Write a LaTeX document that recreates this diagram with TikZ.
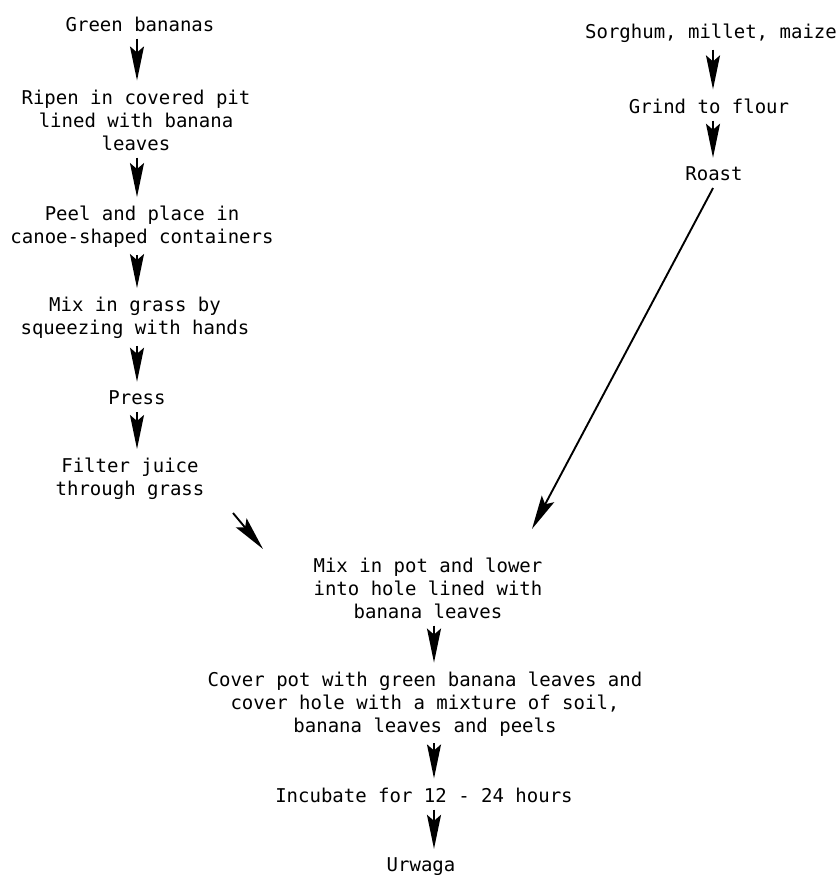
\documentclass[tikz,border=0pt]{standalone}
\usepackage{fontspec}
\setmainfont{DejaVu Sans Mono}
\usetikzlibrary{arrows.meta, positioning, calc}

\begin{document}
\begin{tikzpicture}[x=1pt, y=-1pt,
    stepnode/.style={align=center, inner sep=5pt, font=\fontsize{19}{23}\selectfont},
    arr/.style={-{Stealth[length=34pt, width=14pt, inset=6pt]}, line width=1.9pt,
                shorten >=4pt, shorten <=2pt}]
    \useasboundingbox (0,0) rectangle (840,875);

    % Columns for the vertical arrows
    \coordinate (lcol) at (137,0);
    \coordinate (rcol) at (713,0);
    \coordinate (ccol) at (434,0);

    % Banana branch
    \node[stepnode] (green) at (140, 24) {Green bananas};
    \node[stepnode] (ripen) at (136, 120) {Ripen in covered pit\\lined with banana\\leaves};
    \node[stepnode] (peel) at (142, 227) {Peel and place in\\canoe-shaped containers};
    \node[stepnode] (grass) at (135, 318) {Mix in grass by\\squeezing with hands};
    \node[stepnode] (press) at (137, 398) {Press};
    \node[stepnode] (filter) at (130, 479) {Filter juice\\through grass};

    % Cereal branch
    \node[stepnode] (cereal) at (711, 33) {Sorghum, millet, maize};
    \node[stepnode] (grind) at (709, 106) {Grind to flour};
    \node[stepnode] (roast) at (714, 174) {Roast};

    % Joint steps
    \node[stepnode] (pot) at (428, 588) {Mix in pot and lower\\into hole lined with\\banana leaves};
    \node[stepnode] (cover) at (425, 704) {Cover pot with green banana leaves and\\cover hole with a mixture of soil,\\banana leaves and peels};
    \node[stepnode] (incubate) at (424, 795) {Incubate for 12 - 24 hours};
    \node[stepnode] (urwaga) at (421, 867) {Urwaga};

    % Vertical arrows
    \draw[arr] (green.south -| lcol) -- (ripen.north -| lcol);
    \draw[arr] (ripen.south -| lcol) -- (peel.north -| lcol);
    \draw[arr] (peel.south -| lcol) -- (grass.north -| lcol);
    \draw[arr] (grass.south -| lcol) -- (press.north -| lcol);
    \draw[arr] (press.south -| lcol) -- (filter.north -| lcol);
    \draw[arr] (cereal.south -| rcol) -- (grind.north -| rcol);
    \draw[arr] (grind.south -| rcol) -- (roast.north -| rcol);
    \draw[arr] (pot.south -| ccol) -- (cover.north -| ccol);
    \draw[arr] (cover.south -| ccol) -- (incubate.north -| ccol);
    \draw[arr] (incubate.south -| ccol) -- (urwaga.north -| ccol);

    % Arrows into the pot
    \coordinate (juicefrom) at (233, 513);
    \coordinate (juiceto) at (263, 549);
    \coordinate (flourto) at (532, 529);
    \draw[arr, shorten >=0pt, shorten <=0pt] (juicefrom) -- (juiceto);
    \draw[arr, shorten >=0pt] (roast.south) -- (flourto);
\end{tikzpicture}
\end{document}
